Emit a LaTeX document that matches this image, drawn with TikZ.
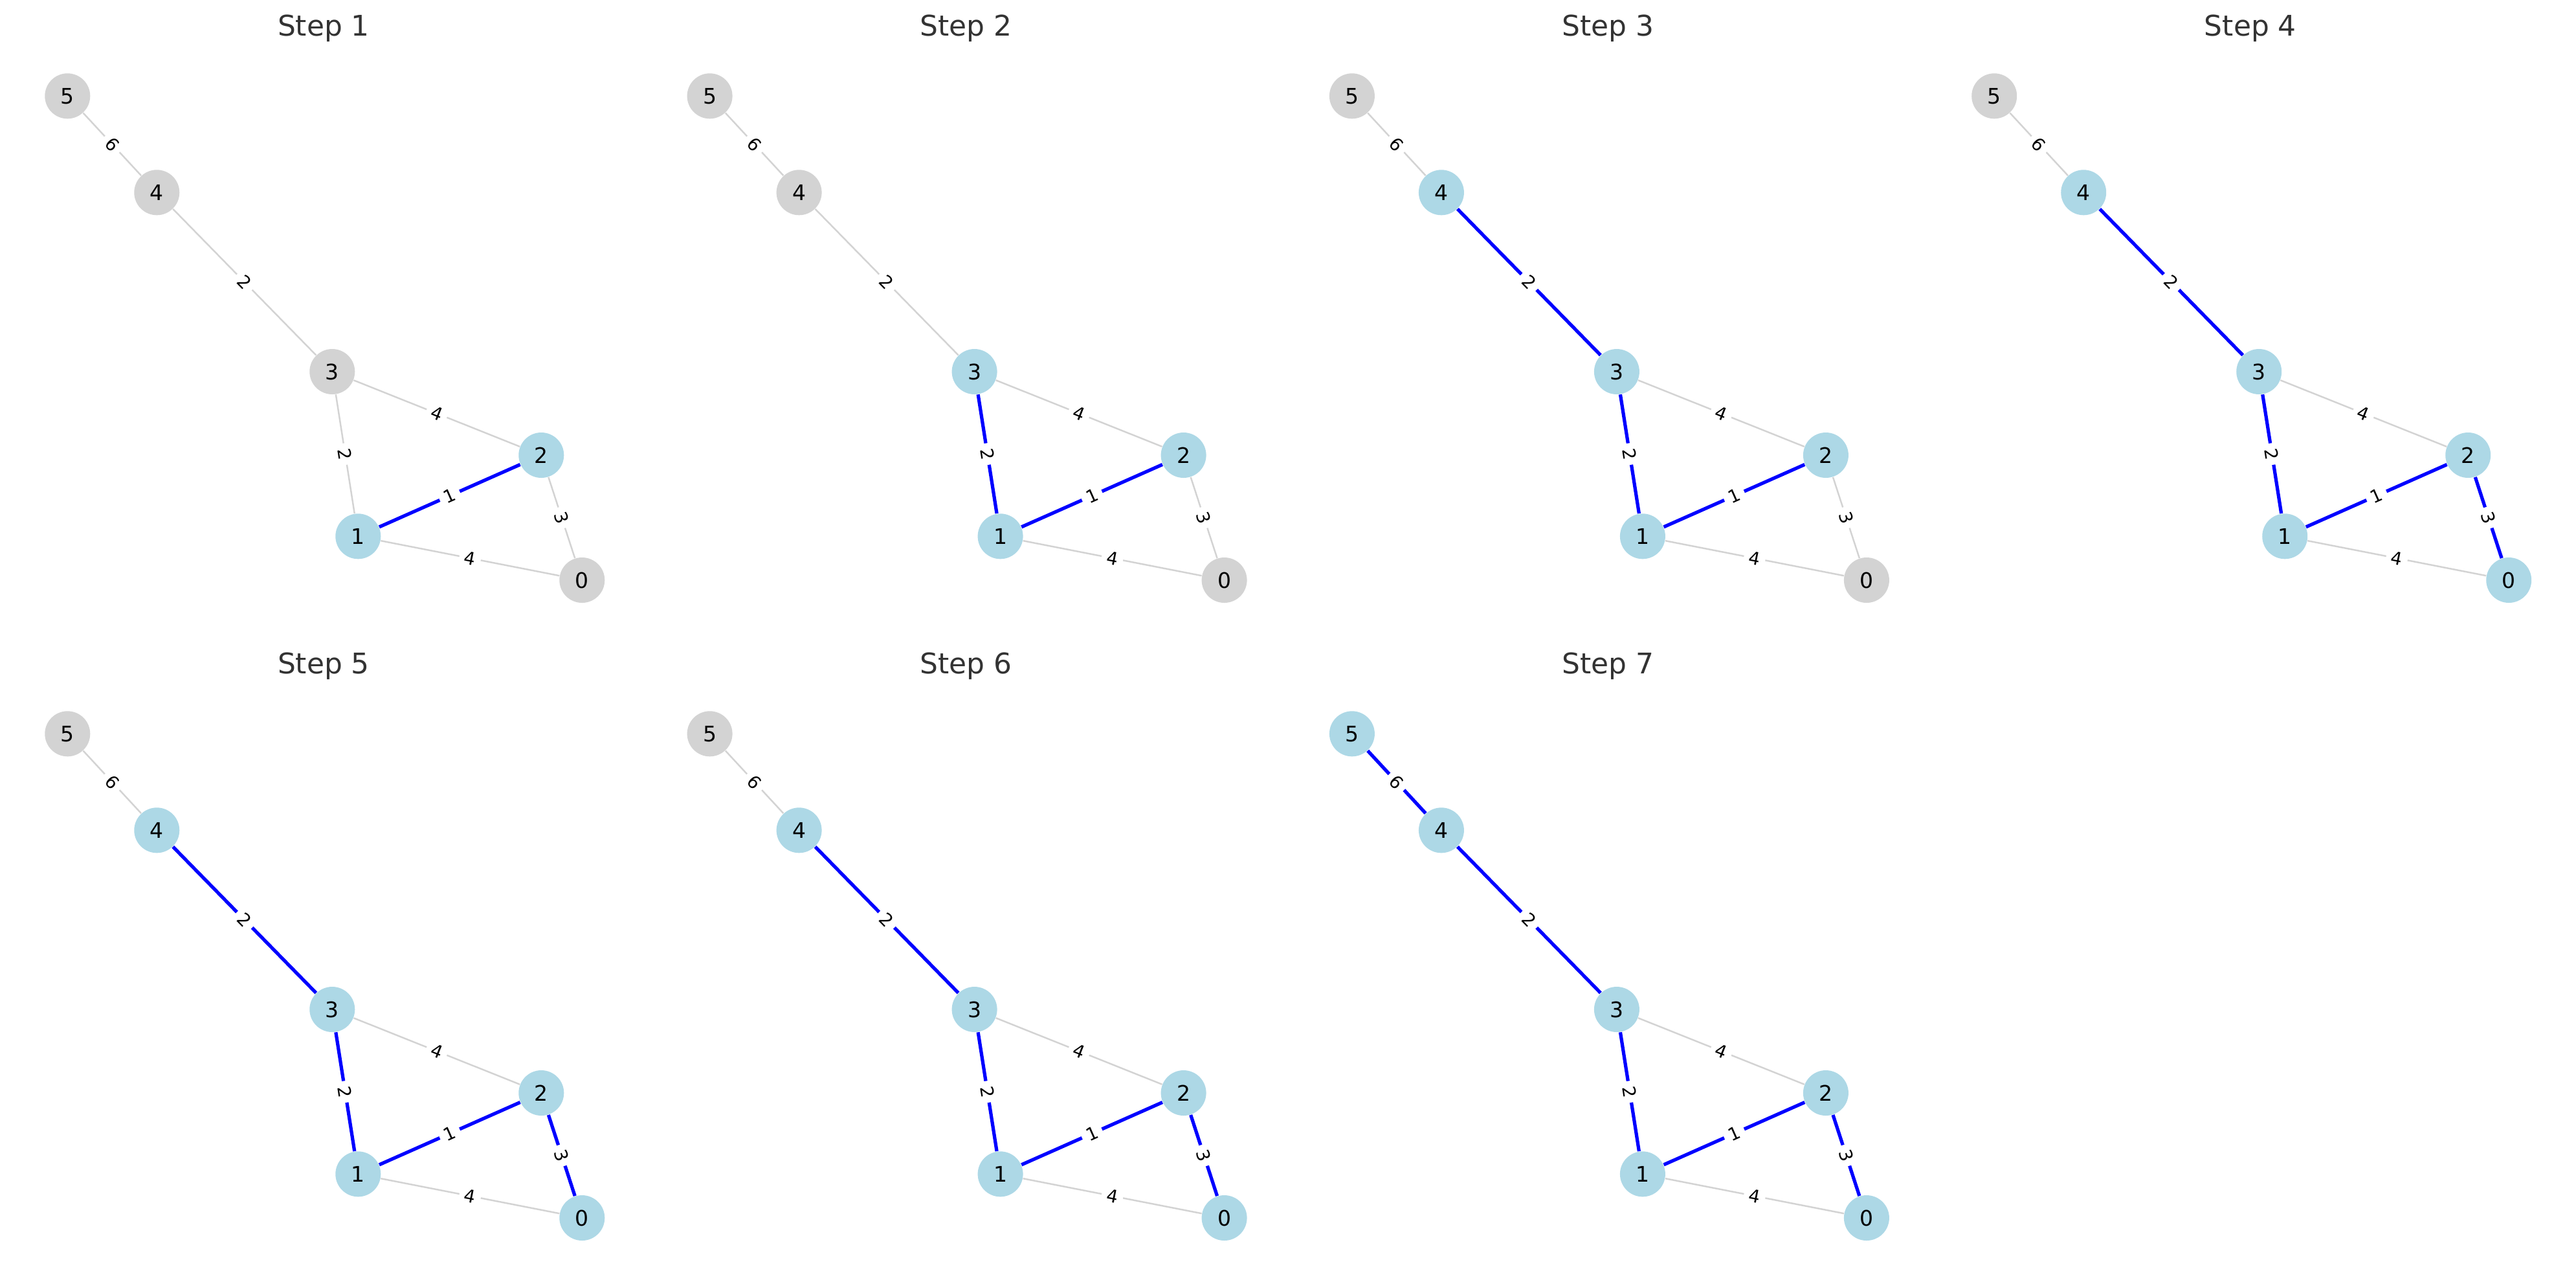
\documentclass[tikz,border=0pt]{standalone}
\usepackage{fontspec}
\setmainfont{DejaVu Sans}
\usetikzlibrary{backgrounds}
\definecolor{treeblue}{HTML}{ADD8E6}
\definecolor{idlegray}{HTML}{D3D3D3}
\definecolor{edgegray}{HTML}{D3D3D3}
\definecolor{titlegray}{HTML}{333333}

\begin{document}
\begin{tikzpicture}[
  idle/.style={circle, fill=idlegray, minimum size=0.7cm, inner sep=0pt, font=\fontsize{9.4}{11}\selectfont},
  tree/.style={idle, fill=treeblue},
  idleedge/.style={draw=edgegray, line width=0.7pt},
  treeedge/.style={draw=blue, line width=1.5pt},
  weight/.style={fill=white, rounded corners=2pt, inner xsep=0.08cm, inner ysep=0.06cm, sloped, font=\fontsize{7.8}{9}\selectfont},
  heading/.style={anchor=base, text=titlegray, font=\fontsize{12.5}{15}\selectfont}
]
\useasboundingbox (0,0) rectangle (39.80,-19.79);
\foreach \s/\col/\row in {1/0/0,2/1/0,3/2/0,4/3/0,5/0/1,6/1/1,7/2/1}{
  \begin{scope}[shift={(9.923*\col,-9.85*\row)}]
    \node[heading] (t\s) at (5.00,-0.55) {Step \s};
    % vertex / x / y / step at which it joins the tree
    \foreach \v/\x/\y/\j in {0/8.993/-8.960/4, 1/5.533/-8.283/1, 2/8.363/-7.030/1,
                             3/5.133/-5.740/2, 4/2.423/-2.973/3, 5/1.043/-1.483/7}{
      \ifnum\j>\s \def\look{idle}\else\def\look{tree}\fi
      \node[\look] (s\s-\v) at (\x,\y) {\v};
    }
    % from / to / weight / step at which it is chosen (9 = never)
    \begin{pgfonlayer}{background}
    \foreach \a/\b/\w/\j in {5/4/6/7, 4/3/2/3, 3/2/4/9, 3/1/2/2, 1/2/1/1, 2/0/3/4, 1/0/4/9}{
      \ifnum\j>\s \def\look{idleedge}\else\def\look{treeedge}\fi
      \draw[\look] (s\s-\a) -- node[weight] {\w} (s\s-\b);
    }
    \end{pgfonlayer}
  \end{scope}
}
\end{tikzpicture}
\end{document}
